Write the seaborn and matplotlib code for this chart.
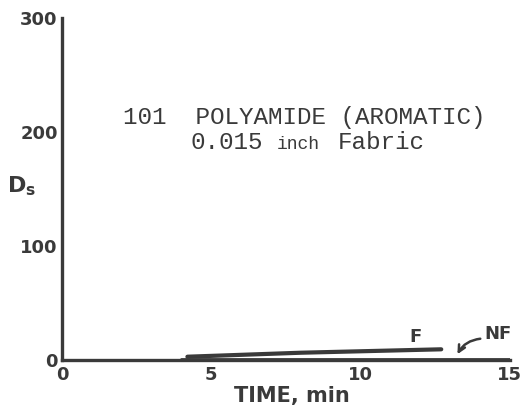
import matplotlib
matplotlib.use("Agg")
import matplotlib.pyplot as plt
import seaborn as sns
import pandas as pd

# Specific optical density vs. time, flaming (F) and non-flaming (NF) modes
f_time = [4.2, 8.0, 12.7]
f_ds = [3.0, 6.5, 9.5]
nf_time = [4.0, 9.0, 15.0]
nf_ds = [0.8, 0.8, 0.8]

x_ticks = [0, 5, 10, 15]
y_ticks = [0, 100, 200, 300]

sns.set_theme(style="white")
plt.rcParams["font.family"] = ["DejaVu Sans"]

ink = "#3a3a3a"
fig = plt.figure(figsize=(5.23, 4.13), dpi=100)
ax = fig.add_axes([0.1185, 0.128, 0.8565, 0.828])

df_f = pd.DataFrame({"time": f_time, "ds": f_ds})
df_nf = pd.DataFrame({"time": nf_time, "ds": nf_ds})
sns.lineplot(data=df_nf, x="time", y="ds", ax=ax, color=ink, lw=2.0)
sns.lineplot(data=df_f, x="time", y="ds", ax=ax, color=ink, lw=3.0)

ax.set_xlim(0, 15)
ax.set_ylim(0, 300)
ax.set_xticks(x_ticks)
ax.set_yticks(y_ticks)
ax.set_xticklabels([str(v) for v in x_ticks], fontsize=13, color=ink, fontweight="semibold")
ax.set_yticklabels([str(v) for v in y_ticks], fontsize=13, color=ink, fontweight="semibold")
ax.tick_params(axis="y", direction="in", length=12, width=2, color=ink, pad=3)
ax.tick_params(axis="x", direction="in", length=9, width=1.6, color=ink, pad=4)

for side in ("top", "right"):
    ax.spines[side].set_visible(False)
for side in ("left", "bottom"):
    ax.spines[side].set_linewidth(2.4)
    ax.spines[side].set_color(ink)

ax.set_xlabel("TIME, min", fontsize=15, fontweight="bold", color=ink, labelpad=2)
ax.xaxis.set_label_coords(0.513, -0.075)
ax.set_ylabel("")
ax.text(-1.35, 153, r"$\mathbf{D_s}$", fontsize=16, color=ink, ha="center", va="center",
        clip_on=False)

mono = "Liberation Mono"
ax.text(2.04, 213, "101  POLYAMIDE (AROMATIC)", fontsize=17.5, color=ink,
        family=mono, ha="left", va="center")
ax.text(4.29, 191, "0.015", fontsize=17.5, color=ink, family=mono, ha="left", va="center")
ax.text(7.2, 189.5, "inch", fontsize=13, color=ink, family=mono, ha="left", va="center")
ax.text(9.24, 191, "Fabric", fontsize=17.5, color=ink, family=mono, ha="left", va="center")

ax.text(11.85, 20, "F", fontsize=13, fontweight="bold", color=ink, ha="center", va="center")
ax.text(14.6, 23, "NF", fontsize=13, fontweight="bold", color=ink, ha="center", va="center")
ax.annotate("", xy=(13.2, 3), xytext=(14.1, 19),
            arrowprops=dict(arrowstyle="->", color=ink, lw=1.8,
                            connectionstyle="arc3,rad=0.3"))

fig.savefig("out.png", dpi=100, facecolor="white")
